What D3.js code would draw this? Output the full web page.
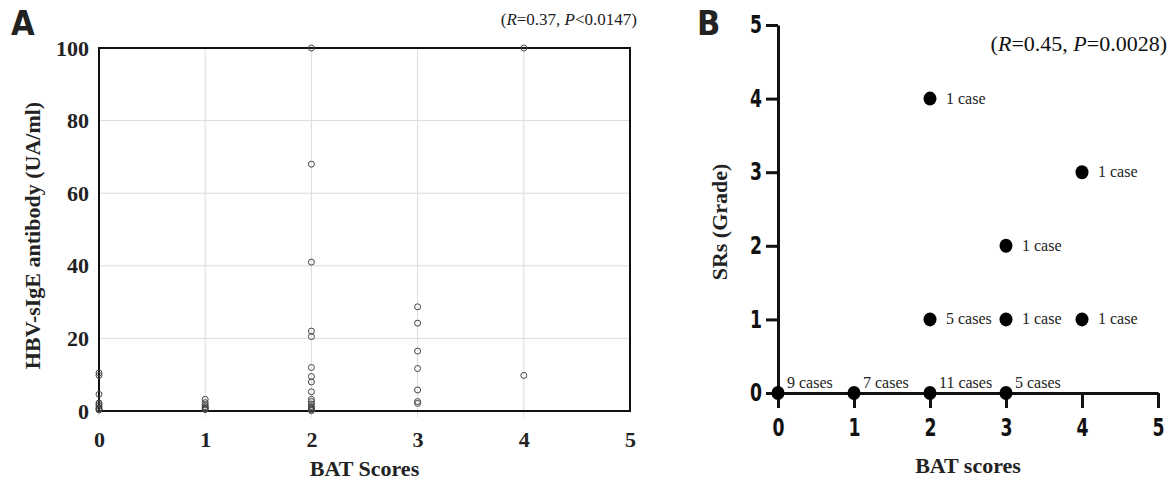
<!DOCTYPE html>
<html>
<head>
<meta charset="utf-8">
<script src="https://cdn.jsdelivr.net/npm/d3@7"></script>
<style>
	body { margin: 0; background: #fff; }
</style>
</head>
<body>
<div id="chart"></div>
<script>
// panel A: HBV-sIgE antibody by BAT score
var scoresA = [0, 1, 2, 3, 4]
var sigeAt0 = [10.5, 9.8, 4.6, 2.2, 1.8, 1.3, 0.8, 0.5, 0.3]
var sigeAt1 = [3.2, 2.3, 1.7, 1.2, 0.9, 0.6, 0.4]
var sigeAt2 = [100, 68, 41, 22, 20.5, 12, 9.5, 8, 5.3, 3.2, 2.6, 1.9, 1.2, 0.8, 0.6, 0.3, 0.1]
var sigeAt3 = [28.7, 24.2, 16.5, 11.7, 5.8, 2.6, 2.1]
var sigeAt4 = [100, 9.8]
var yTicksA = [0, 20, 40, 60, 80, 100]
var xTicks = [0, 1, 2, 3, 4, 5]

// panel B: SRs grade vs BAT score, with case counts
var batB = [0, 1, 2, 3, 2, 3, 4, 3, 4, 2]
var gradeB = [0, 0, 0, 0, 1, 1, 1, 2, 3, 4]
var casesB = [9, 7, 11, 5, 5, 1, 1, 1, 1, 1]
var yTicksB = [0, 1, 2, 3, 4, 5]

var SERIF = '"Liberation Serif", "Times New Roman", serif'
var NARROW = '"DejaVu Sans Condensed", "DejaVu Sans", sans-serif'

var svg = d3.select("#chart").append("svg")
	.attr("width", 1174)
	.attr("height", 481)

// ---------- panel A ----------
var xA = d3.scaleLinear().domain([0, 5]).range([99, 630])
var yA = d3.scaleLinear().domain([0, 100]).range([411, 48])
var gA = svg.append("g")

gA.selectAll("line.vgrid")
	.data(xTicks.slice(1, 5))
	.enter().append("line")
	.attr("class", "vgrid")
	.attr("x1", xA).attr("x2", xA)
	.attr("y1", yA(100)).attr("y2", yA(0) + 6)
	.attr("stroke", "#dcdcdc").attr("stroke-width", 1)
gA.selectAll("line.hgrid")
	.data(yTicksA.slice(1, 5))
	.enter().append("line")
	.attr("class", "hgrid")
	.attr("x1", xA(0)).attr("x2", xA(5))
	.attr("y1", yA).attr("y2", yA)
	.attr("stroke", "#dcdcdc").attr("stroke-width", 1)
gA.append("line")
	.attr("x1", xA(0)).attr("x2", xA(0))
	.attr("y1", yA(0)).attr("y2", yA(0) + 6)
	.attr("stroke", "#dcdcdc")

gA.append("rect")
	.attr("x", xA(0)).attr("y", yA(100))
	.attr("width", xA(5) - xA(0)).attr("height", yA(0) - yA(100))
	.attr("fill", "none").attr("stroke", "#111").attr("stroke-width", 2)

var axisLeftA = gA.append("g")
	.attr("transform", "translate(" + xA(0) + ",0)")
	.call(d3.axisLeft(yA).tickValues(yTicksA).tickFormat(d3.format("d")).tickSize(0).tickPadding(10))
axisLeftA.select(".domain").remove()
var axisBottomA = gA.append("g")
	.attr("transform", "translate(0," + yA(0) + ")")
	.call(d3.axisBottom(xA).tickValues(xTicks).tickFormat(d3.format("d")).tickSize(0).tickPadding(20))
axisBottomA.select(".domain").remove()
gA.selectAll(".tick text")
	.style("font-family", SERIF)
	.style("font-size", "22px")
	.style("font-weight", "bold")
	.attr("fill", "#222")

var pointsA = []
var groupsA = [sigeAt0, sigeAt1, sigeAt2, sigeAt3, sigeAt4]
scoresA.forEach(function (s, i) {
	groupsA[i].forEach(function (v) { pointsA.push({score: s, value: v}) })
})
gA.selectAll("circle.pt")
	.data(pointsA)
	.enter().append("circle")
	.attr("class", "pt")
	.attr("cx", function (d) { return xA(d.score) })
	.attr("cy", function (d) { return yA(d.value) })
	.attr("r", 3)
	.attr("fill", "none")
	.attr("stroke", "#444")
	.attr("stroke-width", 1)

gA.append("text")
	.attr("transform", "translate(40," + ((yA(0) + yA(100)) / 2 + 6) + ") rotate(-90)")
	.style("font-family", SERIF)
	.style("text-anchor", "middle")
	.style("font-size", "22px")
	.style("font-weight", "bold")
	.attr("fill", "#222")
	.text("HBV-sIgE antibody (UA/ml)")
gA.append("text")
	.attr("x", (xA(0) + xA(5)) / 2).attr("y", 476)
	.style("font-family", SERIF)
	.style("text-anchor", "middle")
	.style("font-size", "22px")
	.style("font-weight", "bold")
	.attr("fill", "#222")
	.text("BAT Scores")

var statA = gA.append("text")
	.attr("x", 637).attr("y", 25)
	.style("font-family", SERIF)
	.style("text-anchor", "end")
	.style("font-size", "17px")
	.attr("fill", "#222")
statA.append("tspan").text("(")
statA.append("tspan").style("font-style", "italic").text("R")
statA.append("tspan").text("=0.37, ")
statA.append("tspan").style("font-style", "italic").text("P")
statA.append("tspan").text("<0.0147)")

svg.append("text")
	.attr("x", 11).attr("y", 35)
	.style("font-family", NARROW)
	.style("font-size", "34px")
	.style("font-weight", "bold")
	.attr("fill", "#222")
	.text("A")

// ---------- panel B ----------
var xB = d3.scaleLinear().domain([0, 5]).range([778, 1158])
var yB = d3.scaleLinear().domain([0, 5]).range([393, 25])
var gB = svg.append("g")

var axisLeftB = gB.append("g")
	.attr("transform", "translate(" + xB(0) + ",0)")
	.call(d3.axisLeft(yB).tickValues(yTicksB).tickFormat(d3.format("d")).tickSize(12).tickSizeOuter(0).tickPadding(4))
var axisBottomB = gB.append("g")
	.attr("transform", "translate(0," + yB(0) + ")")
	.call(d3.axisBottom(xB).tickValues(xTicks).tickFormat(d3.format("d")).tickSize(15).tickSizeOuter(0).tickPadding(11))
gB.selectAll(".domain, .tick line")
	.attr("stroke", "#111")
	.attr("stroke-width", 3)
gB.selectAll(".tick text")
	.style("font-family", NARROW)
	.style("font-size", "24px")
	.style("font-weight", "bold")
	.attr("textLength", 12)
	.attr("lengthAdjust", "spacingAndGlyphs")
	.attr("fill", "#111")

var pointsB = batB.map(function (b, i) {
	return {bat: b, grade: gradeB[i], n: casesB[i]}
})
gB.selectAll("ellipse.dot")
	.data(pointsB)
	.enter().append("ellipse")
	.attr("class", "dot")
	.attr("cx", function (d) { return xB(d.bat) })
	.attr("cy", function (d) { return yB(d.grade) })
	.attr("rx", 6.5).attr("ry", 7)
	.attr("fill", "#000")
gB.selectAll("text.cnt")
	.data(pointsB)
	.enter().append("text")
	.attr("class", "cnt")
	.attr("x", function (d) { return xB(d.bat) + (d.grade == 0 ? 9 : 16) })
	.attr("y", function (d) { return d.grade == 0 ? yB(0) - 5 : yB(d.grade) + 5 })
	.style("font-family", SERIF)
	.style("font-size", "16px")
	.attr("fill", "#222")
	.text(function (d) { return d.n + (d.n == 1 ? " case" : " cases") })

gB.append("text")
	.attr("transform", "translate(727," + ((yB(0) + yB(5)) / 2 + 13) + ") rotate(-90)")
	.style("font-family", SERIF)
	.style("text-anchor", "middle")
	.style("font-size", "22px")
	.style("font-weight", "bold")
	.attr("fill", "#222")
	.text("SRs (Grade)")
gB.append("text")
	.attr("x", (xB(0) + xB(5)) / 2).attr("y", 473)
	.style("font-family", SERIF)
	.style("text-anchor", "middle")
	.style("font-size", "22px")
	.style("font-weight", "bold")
	.attr("fill", "#222")
	.text("BAT scores")

var statB = gB.append("text")
	.attr("x", 1167).attr("y", 51)
	.style("font-family", SERIF)
	.style("text-anchor", "end")
	.style("font-size", "22px")
	.attr("fill", "#111")
statB.append("tspan").text("(")
statB.append("tspan").style("font-style", "italic").text("R")
statB.append("tspan").text("=0.45, ")
statB.append("tspan").style("font-style", "italic").text("P")
statB.append("tspan").text("=0.0028)")

svg.append("text")
	.attr("x", 697).attr("y", 35)
	.style("font-family", NARROW)
	.style("font-size", "34px")
	.style("font-weight", "bold")
	.attr("fill", "#222")
	.text("B")
</script>
</body>
</html>
